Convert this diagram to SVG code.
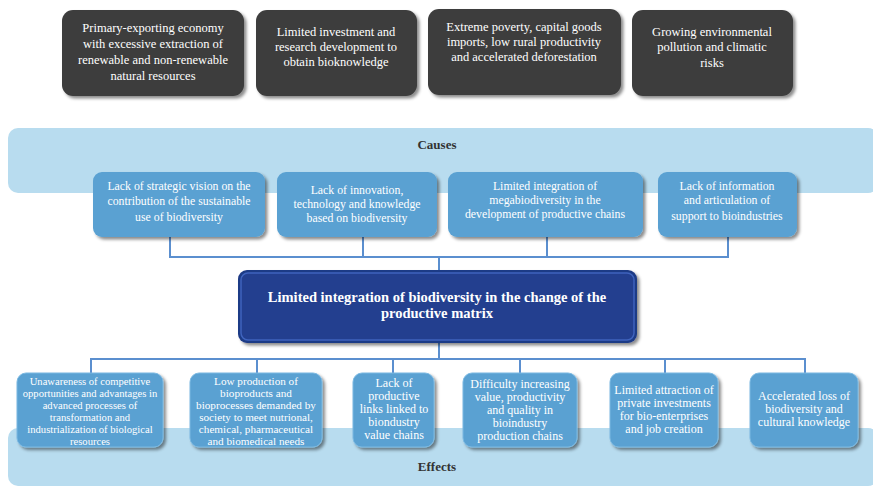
<svg xmlns="http://www.w3.org/2000/svg" width="873" height="489" viewBox="0 0 873 489">
<defs>
<filter id="sh" x="-10%" y="-10%" width="125%" height="130%"><feDropShadow dx="2.5" dy="2.5" stdDeviation="1.5" flood-color="#000" flood-opacity="0.45"/></filter>
<style>
.dark{fill:#3d3d3d;filter:url(#sh)}
.band{fill:#b8dcef}
.cbox{fill:#5aa1d2;filter:url(#sh)}
.ebox{fill:#5aa1d2;stroke:#7bb9e2;stroke-width:1;filter:url(#sh)}
.t{font-family:"Liberation Serif",serif;fill:#fff;text-anchor:middle}
.top{font-size:12.5px}
.c{font-size:11.8px}
.e{font-size:10.6px}
.e2{font-size:11.2px}
.eb{font-size:12px}
.lbl{font-family:"Liberation Serif",serif;font-size:13px;font-weight:bold;fill:#333;text-anchor:middle}
.conn{fill:none;stroke:#5b8fcf;stroke-width:2}
</style>
</defs>
<rect class="band" x="8" y="128" width="870" height="65" rx="10"/>
<rect class="band" x="8" y="428" width="870" height="58" rx="10"/>
<text class="lbl" x="437" y="149">Causes</text>
<text class="lbl" x="437" y="471">Effects</text>
<g id="connectors">
<path class="conn" d="M170 237V257H728V237M363 237V257M547 237V257M439 257V270"/>
<path class="conn" d="M439 343V359M91 375V359H805V375M257 359V375M393 359V375M520 359V375M665 359V375"/>
</g>
<g id="top1"><rect class="dark" x="62" y="10" width="182" height="86" rx="11"/>
<text class="t top"><tspan x="153" y="32">Primary-exporting economy</tspan><tspan x="153" y="48">with excessive extraction of</tspan><tspan x="153" y="64">renewable and non-renewable</tspan><tspan x="153" y="80">natural resources</tspan></text></g>
<g id="top2"><rect class="dark" x="256" y="10" width="161" height="86" rx="11"/>
<text class="t top"><tspan x="336" y="36">Limited investment and</tspan><tspan x="336" y="51">research development to</tspan><tspan x="336" y="66">obtain bioknowledge</tspan></text></g>
<g id="top3"><rect class="dark" x="428" y="9" width="193" height="86" rx="11"/>
<text class="t top"><tspan x="524" y="31">Extreme poverty, capital goods</tspan><tspan x="524" y="46">imports, low rural productivity</tspan><tspan x="524" y="61">and accelerated deforestation</tspan></text></g>
<g id="top4"><rect class="dark" x="632" y="10" width="161" height="86" rx="11"/>
<text class="t top"><tspan x="712" y="36">Growing environmental</tspan><tspan x="712" y="51">pollution and climatic</tspan><tspan x="712" y="67">risks</tspan></text></g>
<g id="cause1"><rect class="cbox" x="93" y="172" width="172" height="65" rx="9"/>
<text class="t c"><tspan x="179" y="190">Lack of strategic vision on the</tspan><tspan x="179" y="205">contribution of the sustainable</tspan><tspan x="179" y="221">use of biodiversity</tspan></text></g>
<g id="cause2"><rect class="cbox" x="277" y="172" width="160" height="65" rx="9"/>
<text class="t c"><tspan x="357" y="194">Lack of innovation,</tspan><tspan x="357" y="208">technology and knowledge</tspan><tspan x="357" y="222">based on biodiversity</tspan></text></g>
<g id="cause3"><rect class="cbox" x="448" y="172" width="195" height="65" rx="9"/>
<text class="t c"><tspan x="545" y="190">Limited integration of</tspan><tspan x="545" y="204">megabiodiversity in the</tspan><tspan x="545" y="218">development of productive chains</tspan></text></g>
<g id="cause4"><rect class="cbox" x="658" y="172" width="139" height="65" rx="9"/>
<text class="t c"><tspan x="727" y="190">Lack of information</tspan><tspan x="727" y="204">and articulation of</tspan><tspan x="727" y="220">support to bioindustries</tspan></text></g>
<g id="center"><rect x="238" y="270" width="399" height="73" rx="9" fill="#1f3a86" filter="url(#sh)"/>
<rect x="241" y="273" width="393" height="67" rx="7" fill="#233f8f" stroke="#3f63bd" stroke-width="1.5"/>
<text class="t" font-size="14.5" font-weight="bold"><tspan x="437" y="302">Limited integration of biodiversity in the change of the</tspan><tspan x="437" y="318">productive matrix</tspan></text></g>
<g id="effect1"><rect class="ebox" x="17" y="373" width="146" height="74" rx="9"/>
<text class="t e"><tspan x="90" y="385">Unawareness of competitive</tspan><tspan x="90" y="397">opportunities and advantages in</tspan><tspan x="90" y="409">advanced processes of</tspan><tspan x="90" y="421">transformation and</tspan><tspan x="90" y="433">industrialization of biological</tspan><tspan x="90" y="445">resources</tspan></text></g>
<g id="effect2"><rect class="ebox" x="190" y="373" width="132" height="74" rx="9"/>
<text class="t e2"><tspan x="256" y="385">Low production of</tspan><tspan x="256" y="397">bioproducts and</tspan><tspan x="256" y="409">bioprocesses demanded by</tspan><tspan x="256" y="421">society to meet nutrional,</tspan><tspan x="256" y="433">chemical, pharmaceutical</tspan><tspan x="256" y="445">and biomedical needs</tspan></text></g>
<g id="effect3"><rect class="ebox" x="353" y="373" width="81" height="74" rx="9"/>
<text class="t eb"><tspan x="394" y="387">Lack of</tspan><tspan x="394" y="400">productive</tspan><tspan x="394" y="413">links linked to</tspan><tspan x="394" y="426">biondustry</tspan><tspan x="394" y="439">value chains</tspan></text></g>
<g id="effect4"><rect class="ebox" x="463" y="373" width="114" height="74" rx="9"/>
<text class="t eb"><tspan x="520" y="388">Difficulty increasing</tspan><tspan x="520" y="401">value, productivity</tspan><tspan x="520" y="414">and quality in</tspan><tspan x="520" y="427">bioindustry</tspan><tspan x="520" y="440">production chains</tspan></text></g>
<g id="effect5"><rect class="ebox" x="610" y="373" width="108" height="74" rx="9"/>
<text class="t eb"><tspan x="664" y="394">Limited attraction of</tspan><tspan x="664" y="407">private investments</tspan><tspan x="664" y="420">for bio-enterprises</tspan><tspan x="664" y="433">and job creation</tspan></text></g>
<g id="effect6"><rect class="ebox" x="750" y="373" width="108" height="74" rx="9"/>
<text class="t eb"><tspan x="804" y="400">Accelerated loss of</tspan><tspan x="804" y="413">biodiversity and</tspan><tspan x="804" y="426">cultural knowledge</tspan></text></g>
</svg>
